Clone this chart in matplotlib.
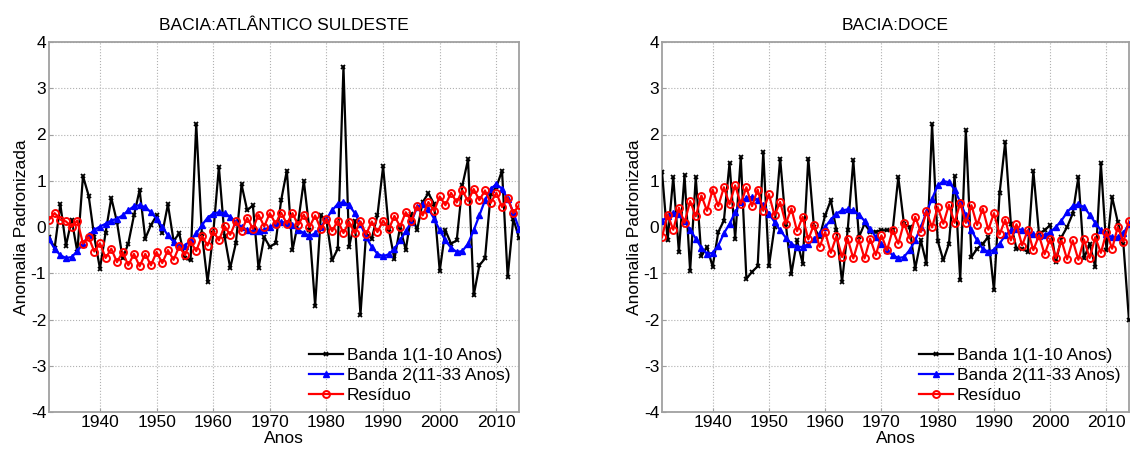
import numpy as np
import matplotlib
matplotlib.use("Agg")
import matplotlib.pyplot as plt

plt.rcParams['font.family'] = ['Liberation Sans', 'DejaVu Sans']
plt.rcParams['axes.unicode_minus'] = False

anos = list(range(1931, 2015))

# ---- BACIA: ATLANTICO SULDESTE ----
atl_banda1 = [
    -0.22, -0.45, 0.49, -0.40, 0.16, -0.54, 1.10, 0.68, -0.22, -0.90,
    -0.12, 0.63, 0.11, -0.68, -0.36, 0.25, 0.80, -0.25, 0.04, 0.25,
    -0.14, 0.49, -0.30, -0.14, -0.68, -0.72, 2.23, -0.15, -1.19, -0.14,
    1.30, -0.20, -0.89, -0.35, 0.92, 0.36, 0.47, -0.89, -0.22, -0.43,
    -0.35, 0.58, 1.22, -0.50, 0.10, 1.00, -0.07, -1.70, 0.25, 0.14,
    -0.72, -0.47, 3.47, -0.43, 0.14, -1.90, -0.14, -0.25, 0.25, 1.31,
    -0.04, -0.70, 0.00, -0.50, 0.29, -0.07, 0.54, 0.73, 0.50, -0.95,
    -0.07, -0.36, -0.29, 0.90, 1.46, -1.48, -0.83, -0.68, 0.72, 0.86,
    1.22, -1.08, 0.18, -0.24]
atl_banda2 = [
    -0.27, -0.47, -0.61, -0.67, -0.65, -0.52, -0.36, -0.18, -0.06, 0.01,
    0.07, 0.14, 0.18, 0.25, 0.36, 0.45, 0.47, 0.43, 0.32, 0.18,
    0.00, -0.18, -0.32, -0.42, -0.40, -0.29, -0.14, 0.04, 0.20, 0.29,
    0.32, 0.30, 0.22, 0.11, 0.00, -0.06, -0.09, -0.09, -0.06, 0.00,
    0.07, 0.11, 0.09, 0.04, -0.06, -0.13, -0.19, -0.14, 0.00, 0.18,
    0.36, 0.50, 0.54, 0.47, 0.30, 0.07, -0.22, -0.43, -0.58, -0.63,
    -0.59, -0.47, -0.29, -0.09, 0.11, 0.43, 0.50, 0.40, 0.18, -0.07,
    -0.29, -0.45, -0.54, -0.52, -0.36, -0.07, 0.25, 0.58, 0.83, 0.92,
    0.83, 0.61, 0.32, -0.04]
atl_residuo = [
    0.16, 0.30, 0.16, 0.12, 0.00, 0.14, -0.36, -0.22, -0.53, -0.35,
    -0.67, -0.47, -0.76, -0.54, -0.83, -0.58, -0.85, -0.58, -0.83, -0.54,
    -0.78, -0.50, -0.71, -0.42, -0.61, -0.31, -0.52, -0.19, -0.40, -0.09,
    -0.29, 0.02, -0.17, 0.12, -0.09, 0.20, -0.04, 0.27, 0.01, 0.30,
    0.07, 0.31, 0.07, 0.30, 0.04, 0.27, 0.00, 0.25, -0.05, 0.18,
    -0.09, 0.14, -0.13, 0.11, -0.13, 0.12, -0.16, 0.12, -0.11, 0.14,
    -0.05, 0.24, 0.01, 0.32, 0.13, 0.45, 0.25, 0.54, 0.35, 0.66,
    0.47, 0.74, 0.53, 0.79, 0.56, 0.82, 0.58, 0.79, 0.52, 0.74,
    0.43, 0.63, 0.30, 0.47]

# ---- BACIA: DOCE ----
doce_banda1 = [
    1.20, -0.29, 1.08, -0.54, 1.12, -0.95, 1.08, -0.63, -0.43, -0.86,
    -0.11, 0.14, 1.38, -0.25, 1.51, -1.12, -0.97, -0.85, 1.62, -0.85,
    0.00, 1.48, 0.07, -1.01, -0.29, -0.79, 1.48, 0.00, -0.22, 0.25,
    0.58, -0.07, -1.19, -0.07, 1.44, -0.22, 0.07, -0.10, -0.10, -0.07,
    -0.07, -0.07, 1.08, 0.07, 0.00, -0.90, -0.29, -0.79, 2.22, -0.30,
    -0.72, -0.36, 1.10, -1.15, 2.09, -0.65, -0.47, -0.36, -0.22, -1.37,
    0.73, 1.84, 0.07, -0.47, -0.47, -0.54, 1.21, -0.14, -0.07, 0.04,
    -0.76, -0.22, 0.00, 0.29, 1.08, -0.68, -0.36, -0.86, 1.38, -0.50,
    0.65, 0.11, -0.36, -2.02]
doce_banda2 = [
    0.13, 0.23, 0.30, 0.29, 0.14, -0.06, -0.25, -0.45, -0.58, -0.56,
    -0.40, -0.14, 0.07, 0.32, 0.53, 0.63, 0.65, 0.59, 0.47, 0.29,
    0.11, -0.07, -0.23, -0.36, -0.43, -0.43, -0.37, -0.27, -0.14, 0.00,
    0.16, 0.29, 0.36, 0.38, 0.36, 0.27, 0.13, -0.04, -0.22, -0.36,
    -0.50, -0.61, -0.67, -0.65, -0.50, -0.29, 0.00, 0.32, 0.61, 0.90,
    0.99, 0.97, 0.81, 0.54, 0.25, -0.07, -0.29, -0.47, -0.54, -0.49,
    -0.36, -0.18, -0.07, -0.04, -0.06, -0.11, -0.16, -0.20, -0.18, -0.11,
    0.00, 0.14, 0.32, 0.45, 0.49, 0.43, 0.27, 0.09, -0.07, -0.16,
    -0.22, -0.22, -0.14, 0.07]
doce_residuo = [
    -0.22, 0.27, -0.06, 0.42, 0.09, 0.56, 0.23, 0.68, 0.35, 0.81,
    0.45, 0.86, 0.49, 0.90, 0.50, 0.86, 0.45, 0.81, 0.35, 0.71,
    0.25, 0.54, 0.07, 0.40, -0.09, 0.22, -0.27, 0.05, -0.43, -0.11,
    -0.56, -0.20, -0.65, -0.25, -0.68, -0.27, -0.68, -0.25, -0.61, -0.18,
    -0.50, -0.06, -0.36, 0.09, -0.25, 0.22, -0.11, 0.34, -0.01, 0.43,
    0.07, 0.48, 0.09, 0.52, 0.09, 0.47, 0.04, 0.40, -0.06, 0.30,
    -0.16, 0.16, -0.29, 0.06, -0.40, -0.07, -0.50, -0.18, -0.59, -0.25,
    -0.67, -0.29, -0.70, -0.29, -0.71, -0.27, -0.67, -0.22, -0.56, -0.11,
    -0.47, 0.00, -0.32, 0.13]

titulos = ["BACIA:ATLÂNTICO SULDESTE", "BACIA:DOCE"]
rotulos = ["Banda 1(1-10 Anos)", "Banda 2(11-33 Anos)", "Resíduo"]

fig = plt.figure(figsize=(11.31, 4.5), dpi=100)
W, H = 1131.0, 450.0
ax1 = fig.add_axes([49 / W, 1 - 412 / H, 470 / W, 370 / H])
ax2 = fig.add_axes([662 / W, 1 - 412 / H, 467 / W, 370 / H])

dados = [
    (atl_banda1, atl_banda2, atl_residuo),
    (doce_banda1, doce_banda2, doce_residuo),
]

for ax, titulo, (b1, b2, res) in zip([ax1, ax2], titulos, dados):
    ax.plot(anos, b1, color="black", marker="x", markersize=3.5,
            markeredgewidth=1.3, linewidth=1.6, label=rotulos[0], zorder=3)
    ax.plot(anos, b2, color="blue", marker="^", markersize=5,
            linewidth=1.6, label=rotulos[1], zorder=4)
    ax.plot(anos, res, color="red", marker="o", markersize=5,
            markerfacecolor="none", markeredgewidth=1.4,
            linewidth=1.6, label=rotulos[2], zorder=5)

    ax.set_xlim(1931, 2014)
    ax.set_ylim(-4, 4)
    ax.set_xticks(range(1940, 2011, 10))
    ax.set_yticks(range(-4, 5))
    ax.grid(True, linestyle=":", color="#b0b0b0", linewidth=0.8)
    ax.set_axisbelow(True)
    for s in ax.spines.values():
        s.set_color("#a0a0a0")
        s.set_linewidth(1.3)
    ax.tick_params(direction="in", length=3, color="#a0a0a0",
                   labelsize=12.5, pad=2)
    ax.set_title(titulo, fontsize=12.5, pad=9)
    ax.set_xlabel("Anos", fontsize=12.5, labelpad=1)
    ax.set_ylabel("Anomalia Padronizada", fontsize=12.5, labelpad=1)
    ax.legend(loc="lower right", frameon=False, fontsize=12.5,
              handlelength=2.0, handletextpad=0.2, labelspacing=0.3,
              borderaxespad=0.1, bbox_to_anchor=(1.0, 0.0))

fig.savefig("out.png", dpi=100)
